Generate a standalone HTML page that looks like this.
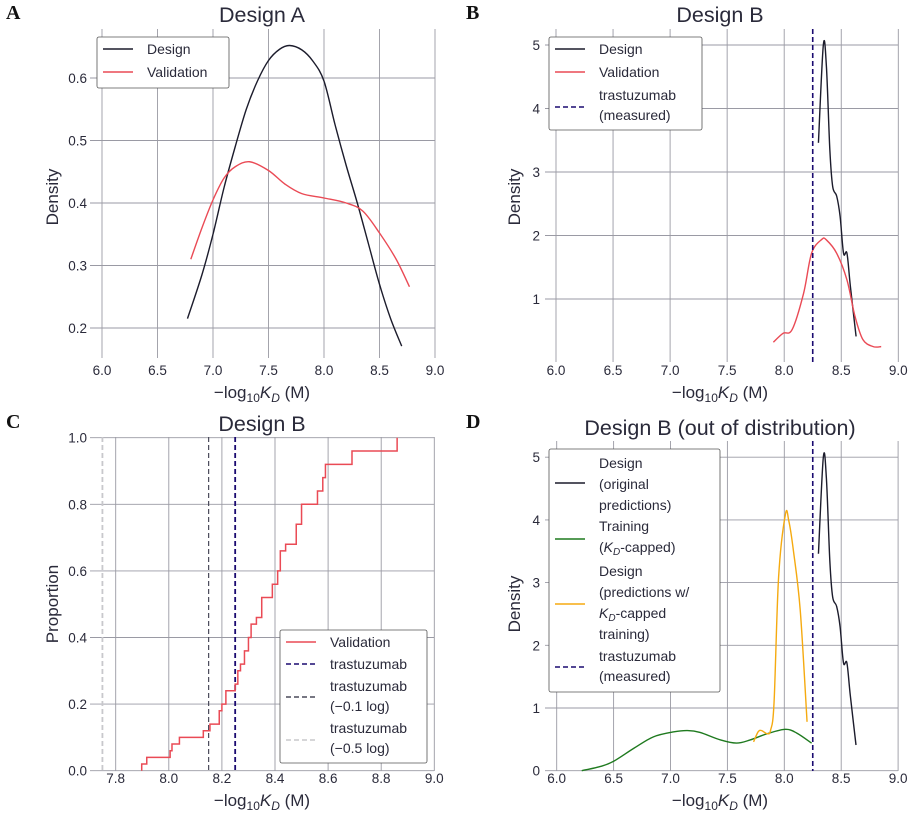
<!DOCTYPE html>
<html><head><meta charset="utf-8"><style>
html,body{margin:0;padding:0;background:#fff}
svg{display:block;font-family:"Liberation Sans",sans-serif}
</style></head><body>
<svg id="fig" width="914" height="816" viewBox="0 0 914 816"></svg>
<script>
// ---- data ----
const aDesignX=[6.77,6.9,7.0,7.1,7.2,7.3,7.4,7.5,7.6,7.69,7.8,7.9,8.0,8.1,8.2,8.3,8.4,8.5,8.6,8.7];
const aDesignY=[0.215,0.285,0.35,0.425,0.49,0.55,0.595,0.628,0.646,0.652,0.645,0.627,0.595,0.525,0.46,0.40,0.335,0.27,0.215,0.171];
const aValX=[6.80,6.9,7.0,7.1,7.2,7.33,7.5,7.65,7.8,8.0,8.2,8.35,8.5,8.65,8.77];
const aValY=[0.31,0.36,0.405,0.44,0.458,0.466,0.452,0.43,0.415,0.408,0.40,0.387,0.352,0.31,0.266];
const bDesignX=[8.30,8.343,8.37,8.40,8.425,8.46,8.49,8.52,8.55,8.58,8.63];
const bDesignY=[3.46,5.0,4.66,3.35,2.77,2.62,2.30,1.72,1.72,1.2,0.41];
const bValX=[7.905,7.99,8.07,8.17,8.24,8.33,8.37,8.46,8.55,8.62,8.69,8.78,8.85];
const bValY=[0.32,0.46,0.52,1.09,1.72,1.94,1.93,1.72,1.30,0.73,0.36,0.25,0.25];
const trastuzumab=8.25;
const cStepX=[7.898,7.917,8.005,8.012,8.040,8.130,8.155,8.19,8.20,8.215,8.25,8.26,8.27,8.285,8.30,8.31,8.33,8.35,8.36,8.39,8.41,8.42,8.44,8.48,8.50,8.56,8.58,8.59,8.69,8.86];
const cStepY=[0.02,0.04,0.06,0.08,0.10,0.12,0.14,0.18,0.20,0.24,0.26,0.30,0.32,0.36,0.40,0.44,0.46,0.52,0.52,0.56,0.60,0.66,0.68,0.74,0.80,0.84,0.88,0.92,0.96,1.0];
const dGreenX=[6.22,6.39,6.5,6.68,6.85,7.03,7.15,7.26,7.44,7.58,7.70,7.85,8.01,8.11,8.24];
const dGreenY=[0.0,0.07,0.15,0.36,0.54,0.62,0.64,0.61,0.49,0.44,0.49,0.59,0.66,0.60,0.44];
const dOrangeX=[7.73,7.77,7.80,7.85,7.88,7.91,7.95,8.01,8.04,8.08,8.14,8.20];
const dOrangeY=[0.46,0.62,0.64,0.59,0.65,1.09,3.09,4.09,3.98,3.51,2.56,0.78];
const aXTicks=[6.0,6.5,7.0,7.5,8.0,8.5,9.0];
const aYTicks=[0.2,0.3,0.4,0.5,0.6];
const bYTicks=[1,2,3,4,5];
const cXTicks=[7.8,8.0,8.2,8.4,8.6,8.8,9.0];
const cYTicks=[0.0,0.2,0.4,0.6,0.8,1.0];
const dYTicks=[0,1,2,3,4,5];

const NS="http://www.w3.org/2000/svg";
const svg=document.getElementById('fig');
function el(tag,attrs,parent){const e=document.createElementNS(NS,tag);for(const k in attrs)e.setAttribute(k,attrs[k]);(parent||svg).appendChild(e);return e;}
function smooth(pts){let d=`M${pts[0][0]},${pts[0][1]}`;for(let i=0;i<pts.length-1;i++){const p0=pts[i-1]||pts[i],p1=pts[i],p2=pts[i+1],p3=pts[i+2]||p2;const c1x=p1[0]+(p2[0]-p0[0])/6,c1y=p1[1]+(p2[1]-p0[1])/6,c2x=p2[0]-(p3[0]-p1[0])/6,c2y=p2[1]-(p3[1]-p1[1])/6;d+=` C${c1x},${c1y} ${c2x},${c2y} ${p2[0]},${p2[1]}`;}return d;}
const GRID="#9a9aa4",TXT="#2a2a3a";
const RED="#ea4a55",BLK="#1c1c2c",NAVY="#1a0a70",GRN="#1f7a1f",ORG="#f5aa10";

function panel(cfg){
  const g=el('g',{});
  
  
  const X=v=>cfg.x0+(v-cfg.xv0)*cfg.sx, Y=v=>cfg.y0-(v-cfg.yv0)*cfg.sy;
  cfg.X=X;cfg.Y=Y;
  cfg.xt.forEach(t=>{const l=el('line',{x1:X(t),x2:X(t),y1:cfg.top,y2:cfg.bot,stroke:GRID,'stroke-width':0.9},g);
    
    const tx=el('text',{x:X(t),y:cfg.xtY,'text-anchor':'middle','font-size':13.5,fill:TXT},g);tx.textContent=t.toFixed(1);
    });
  cfg.yt.forEach(t=>{const l=el('line',{x1:cfg.left,x2:cfg.right,y1:Y(t),y2:Y(t),stroke:GRID,'stroke-width':0.9},g);
    
    const tx=el('text',{x:cfg.ytX,y:Y(t)+5,'text-anchor':'end','font-size':13.5,fill:TXT},g);tx.textContent=cfg.yfmt(t);
    });
  const tt=el('text',{x:cfg.tx,y:cfg.ty,'text-anchor':'middle','font-size':21.5,fill:TXT},g);tt.textContent=cfg.title;
  
  const pl=el('text',{x:cfg.lx,y:cfg.ly,'font-size':20,'font-weight':'bold','font-family':'"Liberation Serif",serif',fill:'#111'},g);pl.textContent=cfg.letter;
  
  const yl=el('text',{x:0,y:0,'text-anchor':'middle','font-size':17,fill:TXT,transform:`translate(${cfg.ylx},${cfg.yly}) rotate(-90)`},g);yl.textContent=cfg.ylabel;
  
  const xl=el('text',{x:cfg.tx,y:cfg.xlY,'text-anchor':'middle','font-size':17,fill:TXT},g);
  xl.innerHTML='−log<tspan font-size="12" dy="4">10</tspan><tspan dy="-4" font-style="italic">K</tspan><tspan font-size="12" dy="4" font-style="italic">D</tspan><tspan dy="-4"> (M)</tspan>';
  
  cfg.g=g;return cfg;
}
function curve(p,xs,ys,color,name){const pts=xs.map((x,i)=>[p.X(x),p.Y(ys[i])]);const e=el('path',{d:smooth(pts),fill:'none',stroke:color,'stroke-width':1.4},p.g);
  return e;}
function vline(p,v,color,dash,name,w){const e=el('line',{x1:p.X(v),x2:p.X(v),y1:p.top,y2:p.bot,stroke:color,'stroke-width':w||1.6,'stroke-dasharray':dash},p.g);
  }
function legend(p,x,y,w,h,items){const g=el('g',{},p.g);
  el('rect',{x:x,y:y,width:w,height:h,rx:2,fill:'#fff',stroke:'#555','stroke-width':0.8},g);
  items.forEach(it=>{const e=el('line',{x1:x+6,x2:x+36,y1:it.ly,y2:it.ly,stroke:it.c,'stroke-width':1.6,'stroke-dasharray':it.dash||''},g);
    
    it.lines.forEach((t,i)=>{const tx=el('text',{x:x+50,y:it.ty+i*it.lh,'font-size':14,fill:TXT},g);tx.innerHTML=t;
      });});}

// Panel A
const A=panel({name:'panel-a',letter:'A',title:'Design A',tx:262,ty:22,lx:6,ly:19,x0:102,xv0:6,sx:111,y0:78,yv0:0.6,sy:625,
  top:29,bot:358,left:90,right:435,xt:aXTicks,yt:aYTicks,xtY:375,ytX:87,yfmt:t=>t.toFixed(1),xlY:398,ylabel:'Density',ylx:58,yly:197});
curve(A,aDesignX,aDesignY,BLK,'design-a-curve');
curve(A,aValX,aValY,RED,'validation-a-curve');
legend(A,97,37,132,51,[{c:BLK,ly:49,ty:54,lh:17,lines:['Design']},{c:RED,ly:72,ty:77,lh:17,lines:['Validation']}]);

// Panel B
const B=panel({name:'panel-b',letter:'B',title:'Design B',tx:720,ty:22,lx:466,ly:19,x0:556,xv0:6,sx:114.1,y0:362.5,yv0:0,sy:63.5,
  top:29,bot:362,left:545,right:898,xt:aXTicks,yt:bYTicks,xtY:375,ytX:540,yfmt:t=>String(t),xlY:398,ylabel:'Density',ylx:520,yly:197});
curve(B,bDesignX,bDesignY,BLK,'design-b-curve');
curve(B,bValX,bValY,RED,'validation-b-curve');
vline(B,trastuzumab,NAVY,'5,3','trastuzumab-line');
legend(B,549,37,153,93,[{c:BLK,ly:49,ty:54,lh:17,lines:['Design']},{c:RED,ly:72,ty:77,lh:17,lines:['Validation']},{c:NAVY,dash:'5,3',ly:107,ty:100,lh:20,lines:['trastuzumab','(measured)']}]);

// Panel C
const C=panel({name:'panel-c',letter:'C',title:'Design B',tx:262,ty:431,lx:6,ly:428,x0:115.7,xv0:7.8,sx:265.5,y0:770.7,yv0:0,sy:333,
  top:437,bot:771,left:90,right:434,xt:cXTicks,yt:cYTicks,xtY:783,ytX:87,yfmt:t=>t.toFixed(1),xlY:806,ylabel:'Proportion',ylx:58,yly:604});
vline(C,trastuzumab-0.5,'#c8c8cc','5,3','trastuzumab-minus-0.5-line',1.8);
vline(C,trastuzumab-0.1,'#4a4a5a','5,3','trastuzumab-minus-0.1-line',1.2);
vline(C,trastuzumab,NAVY,'5,3','trastuzumab-line',1.8);
(function(){let d=`M${C.X(cStepX[0])},${C.Y(0)}`;let prev=0;
  cStepX.forEach((x,i)=>{d+=` L${C.X(x)},${C.Y(prev)} L${C.X(x)},${C.Y(cStepY[i])}`;prev=cStepY[i];});
  const e=el('path',{d:d,fill:'none',stroke:RED,'stroke-width':1.5},C.g);
  })();
legend(C,280,630,147,133,[{c:RED,ly:642,ty:647,lh:17,lines:['Validation']},{c:NAVY,dash:'5,3',ly:664,ty:669,lh:17,lines:['trastuzumab']},
  {c:'#4a4a5a',dash:'5,3',ly:697,ty:691,lh:20,lines:['trastuzumab','(−0.1 log)']},{c:'#c8c8cc',dash:'5,3',ly:740,ty:733,lh:20,lines:['trastuzumab','(−0.5 log)']}]);

// Panel D
const D=panel({name:'panel-d',letter:'D',title:'Design B (out of distribution)',tx:720,ty:435,lx:466,ly:428,x0:556.7,xv0:6,sx:113.8,y0:770.7,yv0:0,sy:62.7,
  top:441,bot:771,left:545,right:898,xt:aXTicks,yt:dYTicks,xtY:783,ytX:540,yfmt:t=>String(t),xlY:806,ylabel:'Density',ylx:520,yly:604});
curve(D,bDesignX,bDesignY,BLK,'design-original-curve');
curve(D,dGreenX,dGreenY,GRN,'training-capped-curve');
curve(D,dOrangeX,dOrangeY,ORG,'design-capped-curve');
vline(D,trastuzumab,NAVY,'5,3','trastuzumab-line');
legend(D,549,449,171,243,[{c:BLK,ly:483,ty:468,lh:21,lines:['Design','(original','predictions)']},
  {c:GRN,ly:539,ty:531,lh:21,lines:['Training','(<tspan font-style="italic">K<tspan font-size="10" dy="3">D</tspan></tspan><tspan dy="-3">-capped)</tspan>']},
  {c:ORG,ly:604,ty:576,lh:21,lines:['Design','(predictions w/','<tspan font-style="italic">K<tspan font-size="10" dy="3">D</tspan></tspan><tspan dy="-3">-capped</tspan>','training)']},
  {c:NAVY,dash:'5,3',ly:667,ty:661,lh:20,lines:['trastuzumab','(measured)']}]);
</script>
</body></html>
